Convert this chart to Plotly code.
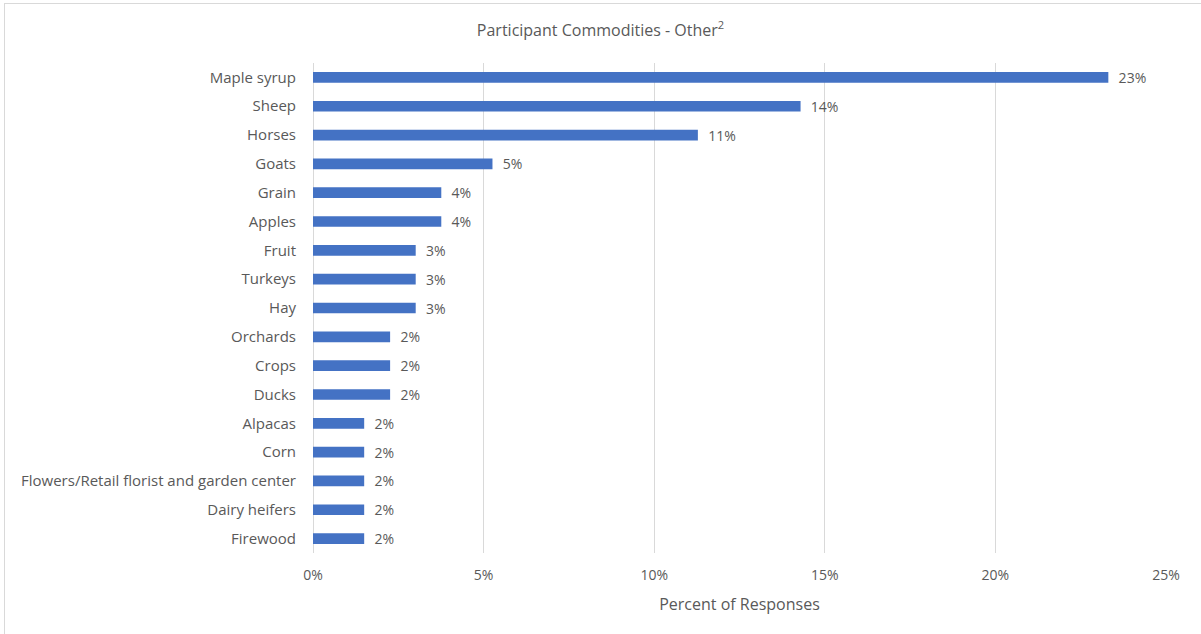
import plotly.graph_objects as go

# Commodity categories, listed top to bottom
commodities = [
    "Maple syrup", "Sheep", "Horses", "Goats", "Grain", "Apples", "Fruit",
    "Turkeys", "Hay", "Orchards", "Crops", "Ducks", "Alpacas", "Corn",
    "Flowers/Retail florist and garden center", "Dairy heifers", "Firewood",
]
# Share of responses (fraction of all "Other" responses)
share = [
    0.2331, 0.1429, 0.1128, 0.0526, 0.0376, 0.0376, 0.0301,
    0.0301, 0.0301, 0.0226, 0.0226, 0.0226, 0.0150, 0.0150,
    0.0150, 0.0150, 0.0150,
]
x_ticks = [0, 0.05, 0.10, 0.15, 0.20, 0.25]

TEXT = "#595959"
GRID = "#d9d9d9"
BAR = "#4472C4"
FONT = "Open Sans"

fig = go.Figure(
    go.Bar(
        x=share,
        y=commodities,
        orientation="h",
        marker=dict(color=BAR, line=dict(width=0)),
        texttemplate="\u00a0\u00a0%{x:.0%}",
        textposition="outside",
        constraintext="none",
        textfont=dict(family=FONT, size=14, color=TEXT),
        cliponaxis=False,
        hoverinfo="skip",
    )
)

fig.update_layout(
    width=1201,
    height=634,
    margin=dict(l=313, r=35, t=63, b=81),
    paper_bgcolor="white",
    plot_bgcolor="white",
    bargap=0.63,
    showlegend=False,
    font=dict(family=FONT, size=14, color=TEXT),
    title=dict(
        text="Participant Commodities - Other<sup>2</sup>",
        x=0.5,
        xanchor="center",
        y=1 - 30 / 634,
        yanchor="middle",
        font=dict(family=FONT, size=16, color=TEXT),
    ),
    xaxis=dict(
        range=[0, 0.25],
        tickvals=x_ticks,
        tickformat=".0%",
        showgrid=True,
        gridcolor=GRID,
        gridwidth=1,
        zeroline=True,
        zerolinecolor=GRID,
        zerolinewidth=1,
        showline=False,
        ticks="outside",
        ticklen=9,
        tickcolor="rgba(0,0,0,0)",
        tickfont=dict(family=FONT, size=14, color=TEXT),
        title=dict(
            text="Percent of Responses",
            font=dict(family=FONT, size=16, color=TEXT),
            standoff=16,
        ),
        fixedrange=True,
    ),
    yaxis=dict(
        autorange="reversed",
        showgrid=False,
        zeroline=False,
        showline=False,
        ticks="outside",
        ticklen=13,
        tickcolor="rgba(0,0,0,0)",
        tickfont=dict(family=FONT, size=15, color=TEXT),
        fixedrange=True,
    ),
    shapes=[
        # chart frame (left and top edges visible)
        dict(type="line", xref="paper", yref="paper",
             x0=-309 / 853, x1=1.1, y0=1 + 59.5 / 490, y1=1 + 59.5 / 490,
             line=dict(color=GRID, width=1)),
        dict(type="line", xref="paper", yref="paper",
             x0=-308.5 / 853, x1=-308.5 / 853, y0=1 + 60 / 490, y1=-0.2,
             line=dict(color=GRID, width=1)),
    ],
)

fig.write_html("out.html", config={"displayModeBar": False})
